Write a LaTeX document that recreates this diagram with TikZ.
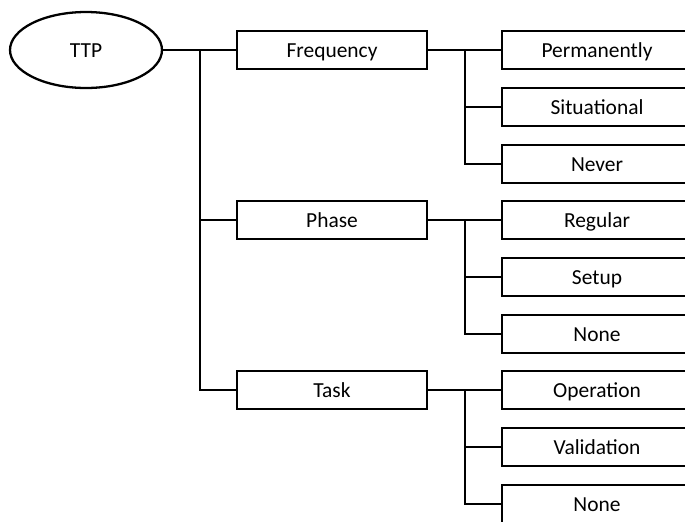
\documentclass[tikz,border=0pt]{standalone}
\usepackage{fontspec}
\setmainfont{Carlito}
\usetikzlibrary{shapes.geometric}

\begin{document}
\begin{tikzpicture}[
x=0.02cm, y=-0.02cm,
root/.style={ellipse,draw,line width=1.3pt,minimum width=3.04cm,minimum height=1.52cm,
  text height=8pt,text depth=0pt,font=\fontsize{12.2}{14}\selectfont},
obj/.style={rectangle,draw,line width=1.3pt,minimum width=3.8cm,minimum height=0.75cm,inner sep=0pt,
  text height=8pt,text depth=0pt,font=\fontsize{12.2}{14}\selectfont},
link/.style={line width=1.3pt} ]

\clip (0,0) rectangle (685,521);

\node[root](ttp) at (86,50) {TTP};

\node[obj](freq) at (332,50) {Frequency};
\node[obj](phase) at (332,220) {Phase};
\node[obj](task) at (332,390) {Task};

\node[obj](perm) at (597,50) {Permanently};
\node[obj](sit) at (597,107) {Situational};
\node[obj](never) at (597,164) {Never};

\node[obj](reg) at (597,220) {Regular};
\node[obj](setup) at (597,277) {Setup};
\node[obj](nonea) at (597,334) {None};

\node[obj](oper) at (597,390) {Operation};
\node[obj](valid) at (597,447) {Validation};
\node[obj](noneb) at (597,504) {None};

% trunk
\coordinate (trunk) at (200,50);
\draw[link] (ttp.east) -- (freq.west);
\draw[link] (trunk) |- (phase.west);
\draw[link] (trunk) |- (task.west);

% branches
\foreach \parent/\first/\second/\third in {freq/perm/sit/never, phase/reg/setup/nonea, task/oper/valid/noneb}{
  \coordinate (\parent-fork) at ([xshift=0.74cm]\parent.east);
  \draw[link] (\parent.east) -- (\first.west);
  \draw[link] (\parent-fork) |- (\second.west);
  \draw[link] (\parent-fork) |- (\third.west);
}
\end{tikzpicture}
\end{document}
